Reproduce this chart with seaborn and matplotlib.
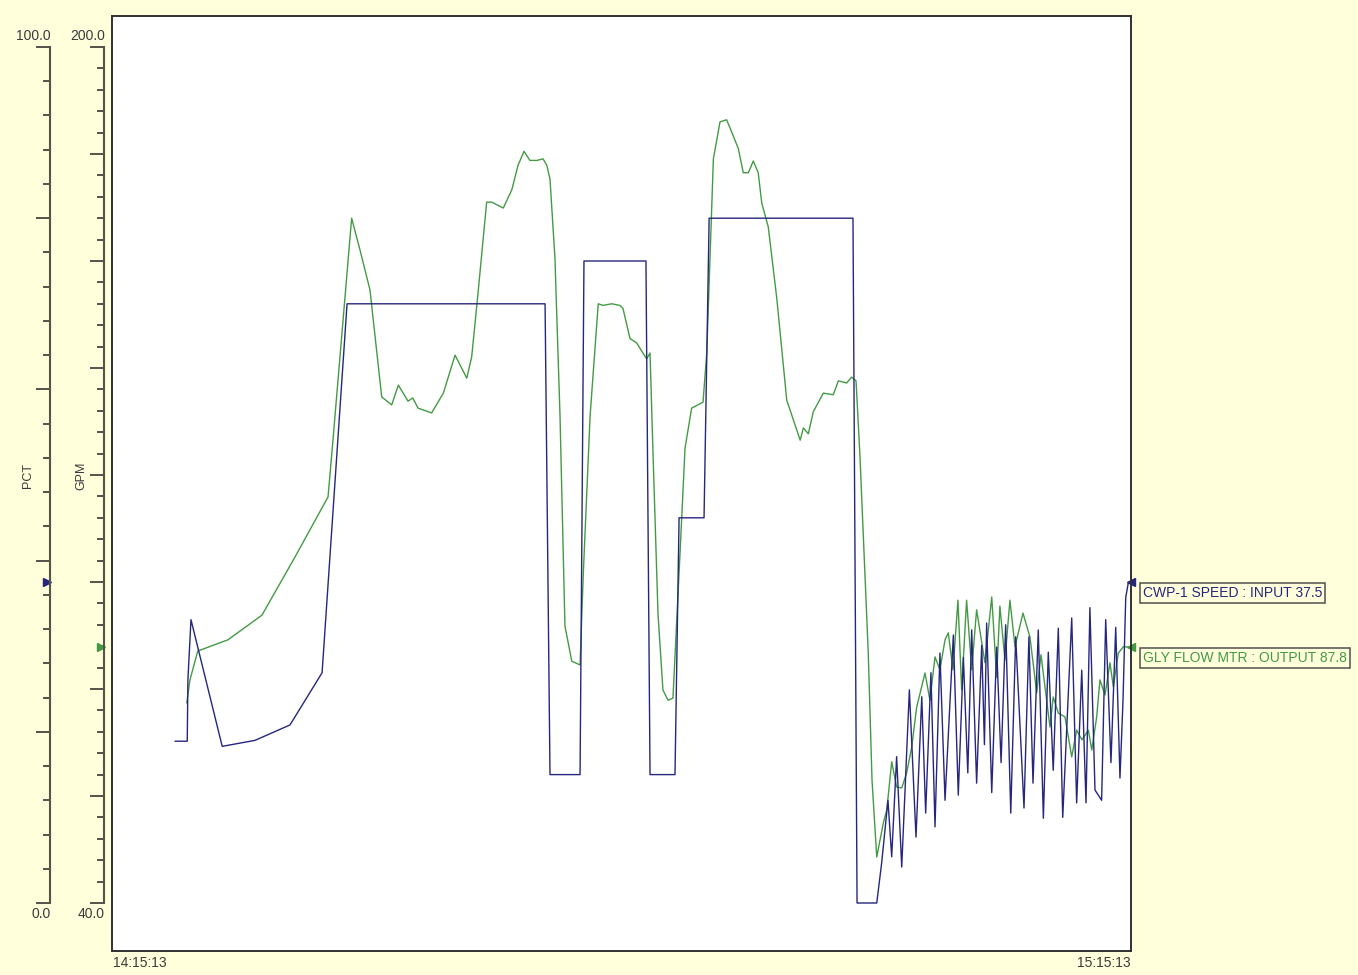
import matplotlib
matplotlib.use("Agg")
import matplotlib.pyplot as plt
import seaborn as sns
import pandas as pd
from matplotlib.ticker import MultipleLocator

# ---------------- data (time in minutes after 14:15:13) ----------------
time_labels = ["14:15:13", "15:15:13"]
time_span = [0, 60]

# CWP-1 SPEED : INPUT (PCT, 0-100)
blue_t = [3.71, 4.43, 4.47, 4.65, 6.49, 8.42, 10.48, 12.37, 13.84, 25.50,
          25.79, 27.56, 27.79, 31.44, 31.68, 33.15, 33.39, 34.86, 35.16, 43.63,
          43.87, 45.03, 45.32, 45.69, 45.91, 46.20, 46.50, 46.95, 47.34, 47.68,
          47.91, 48.22, 48.46, 48.75, 49.05, 49.54, 49.83, 50.13, 50.39, 50.62,
          50.91, 51.21, 51.37, 51.50, 51.80, 52.09, 52.35, 52.62, 52.92, 53.21,
          53.70, 53.99, 54.23, 54.54, 54.84, 55.13, 55.42, 55.72, 55.98, 56.51,
          56.80, 57.10, 57.35, 57.58, 57.88, 58.27, 58.51, 58.82, 59.10, 59.35,
          59.53, 59.69, 59.84, 60.00]
blue_pct = [18.9, 18.9, 26.1, 33.1, 18.3, 19.0, 20.8, 26.9, 70.0, 70.0,
            15.0, 15.0, 75.0, 75.0, 15.0, 15.0, 45.0, 45.0, 80.0, 80.0,
            0.0, 0.0, 4.7, 12.0, 5.4, 17.1, 4.2, 24.9, 7.7, 24.1,
            10.5, 26.9, 8.9, 29.2, 12.0, 31.3, 12.6, 28.7, 15.2, 31.9,
            14.0, 30.1, 18.5, 32.7, 12.9, 29.9, 16.4, 32.5, 10.5, 31.1,
            11.1, 31.1, 14.0, 31.9, 9.9, 29.3, 15.5, 32.1, 10.0, 33.3,
            11.7, 27.2, 11.7, 34.5, 13.2, 12.0, 33.1, 16.4, 32.2, 14.6,
            23.7, 35.7, 37.4, 37.5]

# GLY FLOW MTR : OUTPUT (GPM, 40-200)
green_t = [4.40, 4.59, 5.05, 6.83, 8.83, 10.78, 12.72, 13.01, 14.11, 14.60,
           15.19, 15.88, 16.47, 16.86, 17.43, 17.71, 18.02, 18.82, 19.51, 20.20,
           20.89, 21.18, 21.57, 22.06, 22.36, 23.04, 23.54, 23.91, 24.26, 24.61,
           25.02, 25.38, 25.60, 25.79, 26.08, 26.38, 26.67, 27.07, 27.56, 27.75,
           28.15, 28.63, 28.91, 29.42, 29.91, 30.09, 30.50, 30.89, 31.48, 31.68,
           31.86, 32.15, 32.44, 32.74, 33.03, 33.44, 33.74, 34.13, 34.80, 35.02,
           35.21, 35.41, 35.80, 36.19, 36.49, 36.88, 37.17, 37.47, 37.76, 38.05,
           38.26, 38.64, 39.14, 39.73, 40.52, 40.71, 41.00, 41.29, 41.88, 42.47,
           42.77, 43.26, 43.55, 43.81, 44.04, 44.53, 44.75, 45.03, 45.42, 45.62,
           45.91, 46.20, 46.50, 46.79, 47.09, 47.38, 47.87, 48.16, 48.46, 48.75,
           49.05, 49.24, 49.52, 49.81, 50.03, 50.32, 50.62, 50.91, 51.40, 51.80,
           52.09, 52.28, 52.58, 52.87, 53.17, 53.64, 54.05, 54.45, 54.70, 55.23,
           55.42, 55.72, 56.11, 56.51, 56.80, 57.11, 57.49, 57.69, 57.98, 58.17,
           58.47, 58.76, 58.96, 59.25, 59.55, 60.00]
green_gpm = [77.4, 81.7, 87.1, 89.2, 93.8, 104.7, 115.9, 126.5, 168.0, 162.1,
             154.6, 134.6, 133.1, 136.8, 133.8, 134.4, 132.5, 131.6, 135.3, 142.4,
             138.1, 142.1, 154.6, 171.0, 171.0, 169.9, 173.3, 177.9, 180.5, 178.8,
             178.8, 179.1, 177.9, 175.3, 160.6, 131.0, 91.8, 85.2, 84.5, 101.5,
             131.0, 152.0, 151.7, 152.0, 151.7, 151.1, 145.5, 144.7, 141.7, 142.8,
             123.6, 94.0, 79.8, 77.9, 78.3, 105.0, 125.0, 132.5, 133.6, 142.8,
             160.6, 179.1, 186.0, 186.4, 184.1, 181.0, 176.5, 176.5, 178.7, 176.5,
             170.8, 166.4, 153.1, 134.0, 126.5, 128.8, 127.7, 131.8, 135.3, 135.0,
             137.6, 137.2, 138.3, 137.6, 123.6, 86.7, 63.0, 48.6, 55.0, 57.4,
             66.4, 61.7, 61.5, 64.3, 69.2, 76.6, 83.0, 77.9, 86.0, 83.6,
             89.2, 90.5, 83.6, 96.6, 79.8, 96.6, 83.6, 94.8, 84.9, 97.2,
             82.2, 95.5, 85.4, 96.6, 87.9, 94.2, 89.7, 79.3, 86.4, 72.9,
             78.5, 75.5, 74.8, 67.3, 72.3, 70.5, 72.3, 68.6, 74.8, 81.7,
             78.9, 84.9, 80.4, 86.7, 87.9, 87.8]

blue_name = "CWP-1 SPEED : INPUT"
green_name = "GLY FLOW MTR : OUTPUT"
pct_range = [0.0, 100.0]
gpm_range = [40.0, 200.0]

# ---------------- style ----------------
BG = "#FFFFDC"
BLUE = "#26267e"
GREEN = "#449a44"
AXC = "#55534a"
TXT = "#3a3a3a"

sns.set_style("white")
plt.rcParams["font.family"] = ["Liberation Sans", "DejaVu Sans"]

W, H = 1358, 975
fig = plt.figure(figsize=(W / 100, H / 100), dpi=100, facecolor=BG)


def fx(x):
    return x / W


def fy(y):
    return 1 - y / H


# plot frame: pixel rows 16..951, value rows 47 (max) .. 903 (min)
top_px, bot_px, max_px, min_px = 16, 951, 47, 903
span_px = min_px - max_px
ax = fig.add_axes([fx(112), fy(bot_px), (1131 - 112) / W, (bot_px - top_px) / H])
ax.set_facecolor("white")


def frame_lims(lo, hi):
    per = (hi - lo) / span_px
    return lo - (bot_px - min_px) * per, hi + (max_px - top_px) * per


ax.set_xlim(time_span)
ax.set_ylim(*frame_lims(*gpm_range))
ax2 = ax.twinx()
ax2.set_ylim(*frame_lims(*pct_range))

gdf = pd.DataFrame({"t": green_t, "v": green_gpm})
bdf = pd.DataFrame({"t": blue_t, "v": blue_pct})
sns.lineplot(data=gdf, x="t", y="v", ax=ax, color=GREEN, lw=1.0,
             sort=False, estimator=None)
sns.lineplot(data=bdf, x="t", y="v", ax=ax2, color=BLUE, lw=1.0,
             sort=False, estimator=None)

for a in (ax, ax2):
    a.set_xticks([])
    a.set_yticks([])
    a.set_xlabel("")
    a.set_ylabel("")
    for s in a.spines.values():
        s.set_color("#303030")
        s.set_linewidth(1.2)
ax.set_xlim(time_span)

# time labels
ax.annotate(time_labels[0], xy=(time_span[0], 0), xycoords=("data", "axes fraction"),
            xytext=(1, -5), textcoords="offset pixels", ha="left", va="top",
            fontsize=10, color=TXT)
ax.annotate(time_labels[1], xy=(time_span[1], 0), xycoords=("data", "axes fraction"),
            xytext=(0, -5), textcoords="offset pixels", ha="right", va="top",
            fontsize=10, color=TXT)

# current-value markers on right edge and value boxes
b_now = blue_pct[-1]
g_now = green_gpm[-1]
ax2.plot([time_span[1]], [b_now], marker="<", color=BLUE, ms=6, clip_on=False)
ax.plot([time_span[1]], [g_now], marker="<", color=GREEN, ms=6, clip_on=False)
ax2.annotate(f"{blue_name} {b_now:.1f}", xy=(time_span[1], b_now), xytext=(12, -11),
             textcoords="offset pixels", ha="left", va="center", fontsize=10,
             color=BLUE, annotation_clip=False,
             bbox=dict(boxstyle="square,pad=0.22", fc=BG, ec="#505050", lw=1.1))
ax.annotate(f"{green_name} {g_now:.1f}", xy=(time_span[1], g_now), xytext=(12, -11),
            textcoords="offset pixels", ha="left", va="center", fontsize=10,
            color=GREEN, annotation_clip=False,
            bbox=dict(boxstyle="square,pad=0.22", fc=BG, ec="#505050", lw=1.1))


# left scale axes
def scale_axis(x_px, rng, major, minor, name, name_x, cur, col):
    sa = fig.add_axes([fx(x_px), fy(min_px), 0.0004, span_px / H])
    sa.patch.set_visible(False)
    for k in ("top", "right", "bottom"):
        sa.spines[k].set_visible(False)
    sa.spines["left"].set_color(AXC)
    sa.spines["left"].set_linewidth(1.5)
    sa.set_xticks([])
    sa.set_xlim(0, 1)
    sa.set_ylim(*rng)
    sa.yaxis.set_major_locator(MultipleLocator(major))
    sa.yaxis.set_minor_locator(MultipleLocator(minor))
    sa.tick_params(axis="y", which="both", left=True, right=False,
                   labelleft=False, labelright=False, direction="out",
                   color=AXC, width=1.4)
    sa.tick_params(axis="y", which="major", length=10)
    sa.tick_params(axis="y", which="minor", length=5)
    sa.annotate(f"{rng[1]:.1f}", xy=(0, 1), xycoords="axes fraction",
                xytext=(1, 4), textcoords="offset pixels", ha="right",
                va="bottom", fontsize=10, color=TXT)
    sa.annotate(f"{rng[0]:.1f}", xy=(0, 0), xycoords="axes fraction",
                xytext=(1, -4), textcoords="offset pixels", ha="right",
                va="top", fontsize=10, color=TXT)
    sa.plot([0], [cur], marker=">", color=col, ms=6, clip_on=False,
            transform=sa.transData + matplotlib.transforms.ScaledTranslation(
                -3 / 100, 0, fig.dpi_scale_trans))
    fig.text(fx(name_x), fy(476), name, rotation=90, ha="center", va="center",
             fontsize=9, color=TXT)
    return sa


scale_axis(50, pct_range, 20, 4, "PCT", 27.5, b_now, BLUE)
scale_axis(104, gpm_range, 20, 4, "GPM", 81.5, g_now, GREEN)

fig.savefig("out.png", dpi=100, facecolor=BG)
